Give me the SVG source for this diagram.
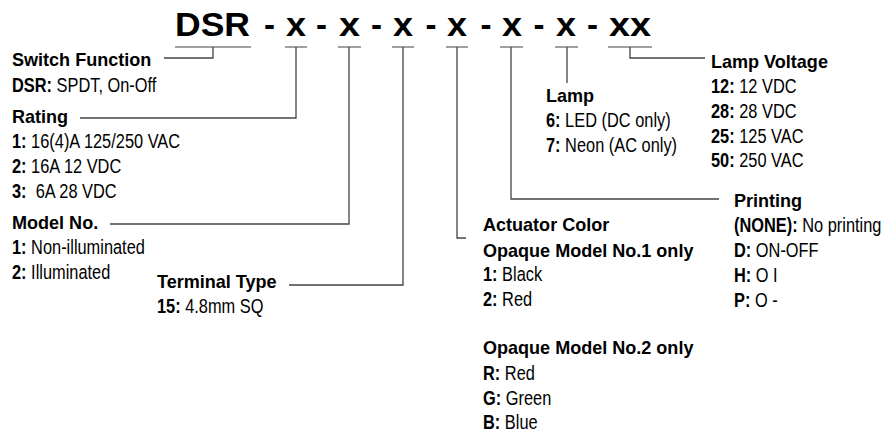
<svg xmlns="http://www.w3.org/2000/svg" width="896" height="432" viewBox="0 0 896 432">
<style>
text{font-family:"Liberation Sans",Arial,sans-serif;fill:#000}
.t{font-size:33px;font-weight:bold}
.h{font-size:19px;font-weight:bold}
.i{font-size:19.5px}
.b{font-weight:bold}
.ul{stroke:#808080;stroke-width:1.5;fill:none}
.c{stroke:#444;stroke-width:1.3;fill:none}
</style>
<rect width="896" height="432" fill="#fff"/>
<g id="title">
<text class="t" x="175" y="36" textLength="75" lengthAdjust="spacingAndGlyphs">DSR</text>
<text class="t" x="269.5" y="36" text-anchor="middle">-</text>
<text class="t" x="286" y="36" textLength="20" lengthAdjust="spacingAndGlyphs">x</text>
<text class="t" x="321.5" y="36" text-anchor="middle">-</text>
<text class="t" x="339" y="36" textLength="21" lengthAdjust="spacingAndGlyphs">x</text>
<text class="t" x="376.5" y="36" text-anchor="middle">-</text>
<text class="t" x="393" y="36" textLength="20" lengthAdjust="spacingAndGlyphs">x</text>
<text class="t" x="431" y="36" text-anchor="middle">-</text>
<text class="t" x="447" y="36" textLength="20" lengthAdjust="spacingAndGlyphs">x</text>
<text class="t" x="486" y="36" text-anchor="middle">-</text>
<text class="t" x="502" y="36" textLength="20" lengthAdjust="spacingAndGlyphs">x</text>
<text class="t" x="539" y="36" text-anchor="middle">-</text>
<text class="t" x="556" y="36" textLength="20" lengthAdjust="spacingAndGlyphs">x</text>
<text class="t" x="592.5" y="36" text-anchor="middle">-</text>
<text class="t" x="609" y="36" textLength="42" lengthAdjust="spacingAndGlyphs">xx</text>
<path class="ul" d="M175 47H251M285 47H307M338 47H361M392 47H414M446 47H468M500 47H523M555 47H578M608 47H652"/>
</g>
<g id="connectors">
<path class="c" d="M213 47V58H164"/>
<path class="c" d="M296 47V118H80"/>
<path class="c" d="M349 47V224H110"/>
<path class="c" d="M403 47V285H289"/>
<path class="c" d="M457 47V238H466"/>
<path class="c" d="M511 47V199H719"/>
<path class="c" d="M567 47V83"/>
<path class="c" d="M630 47V58H705"/>
</g>
<g id="switch-function">
<text class="h" transform="translate(12 66) scale(0.95 1)">Switch Function</text>
<text class="i" transform="translate(12 92) scale(0.84 1)"><tspan class="b">DSR:</tspan> SPDT, On-Off</text>
</g>
<g id="rating">
<text class="h" transform="translate(12 123) scale(0.95 1)">Rating</text>
<text class="i" transform="translate(12 148) scale(0.84 1)"><tspan class="b">1:</tspan> 16(4)A 125/250 VAC</text>
<text class="i" transform="translate(12 173) scale(0.84 1)"><tspan class="b">2:</tspan> 16A 12 VDC</text>
<text class="i" transform="translate(12 198) scale(0.84 1)"><tspan class="b">3:</tspan>&#160; 6A 28 VDC</text>
</g>
<g id="model-no">
<text class="h" transform="translate(12 229) scale(0.95 1)">Model No.</text>
<text class="i" transform="translate(12 254) scale(0.84 1)"><tspan class="b">1:</tspan> Non-illuminated</text>
<text class="i" transform="translate(12 279) scale(0.84 1)"><tspan class="b">2:</tspan> Illuminated</text>
</g>
<g id="terminal-type">
<text class="h" transform="translate(157 288) scale(0.95 1)">Terminal Type</text>
<text class="i" transform="translate(157 313) scale(0.84 1)"><tspan class="b">15:</tspan> 4.8mm SQ</text>
</g>
<g id="actuator-color">
<text class="h" transform="translate(483 231) scale(0.95 1)">Actuator Color</text>
<text class="h" transform="translate(483 257) scale(0.95 1)">Opaque Model No.1 only</text>
<text class="i" transform="translate(483 281) scale(0.84 1)"><tspan class="b">1:</tspan> Black</text>
<text class="i" transform="translate(483 306) scale(0.84 1)"><tspan class="b">2:</tspan> Red</text>
<text class="h" transform="translate(483 354) scale(0.95 1)">Opaque Model No.2 only</text>
<text class="i" transform="translate(483 380) scale(0.84 1)"><tspan class="b">R:</tspan> Red</text>
<text class="i" transform="translate(483 404.5) scale(0.84 1)"><tspan class="b">G:</tspan> Green</text>
<text class="i" transform="translate(483 428.5) scale(0.84 1)"><tspan class="b">B:</tspan> Blue</text>
</g>
<g id="lamp">
<text class="h" transform="translate(546 102) scale(0.95 1)">Lamp</text>
<text class="i" transform="translate(546 127) scale(0.84 1)"><tspan class="b">6:</tspan> LED (DC only)</text>
<text class="i" transform="translate(546 152) scale(0.84 1)"><tspan class="b">7:</tspan> Neon (AC only)</text>
</g>
<g id="lamp-voltage">
<text class="h" transform="translate(711 68) scale(0.95 1)">Lamp Voltage</text>
<text class="i" transform="translate(711 93) scale(0.84 1)"><tspan class="b">12:</tspan> 12 VDC</text>
<text class="i" transform="translate(711 118) scale(0.84 1)"><tspan class="b">28:</tspan> 28 VDC</text>
<text class="i" transform="translate(711 143) scale(0.84 1)"><tspan class="b">25:</tspan> 125 VAC</text>
<text class="i" transform="translate(711 167) scale(0.84 1)"><tspan class="b">50:</tspan> 250 VAC</text>
</g>
<g id="printing">
<text class="h" transform="translate(734 207) scale(0.95 1)">Printing</text>
<text class="i" transform="translate(734 232) scale(0.84 1)"><tspan class="b">(NONE):</tspan> No printing</text>
<text class="i" transform="translate(734 257) scale(0.84 1)"><tspan class="b">D:</tspan> ON-OFF</text>
<text class="i" transform="translate(734 282) scale(0.84 1)"><tspan class="b">H:</tspan> O I</text>
<text class="i" transform="translate(734 307) scale(0.84 1)"><tspan class="b">P:</tspan> O -</text>
</g>
</svg>
